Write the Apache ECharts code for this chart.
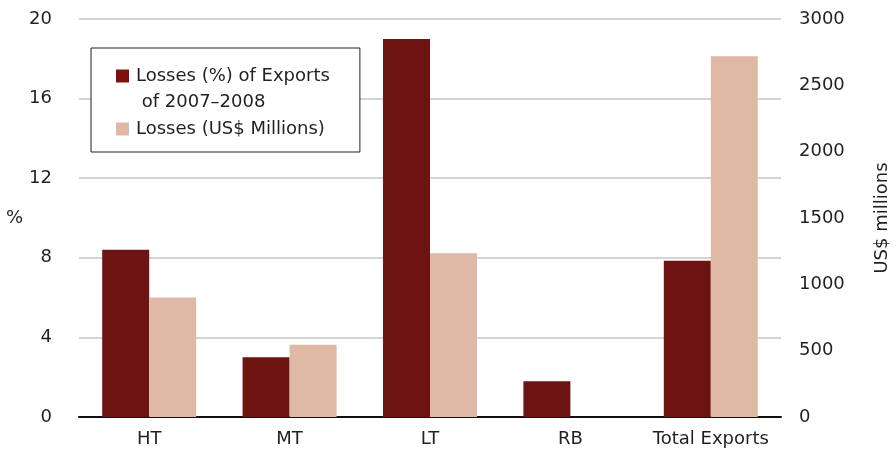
<!DOCTYPE html>
<html>
<head>
<meta charset="utf-8">
<script src="https://cdn.jsdelivr.net/npm/echarts@6/dist/echarts.min.js"></script>
<style>
	html, body { margin: 0; padding: 0; background: #fff; }
	#chart { width: 896px; height: 453px; }
</style>
</head>
<body>
<div id="chart"></div>
<script>
var categories = ['HT', 'MT', 'LT', 'RB', 'Total Exports'];
var lossPct = [8.4, 3.0, 19.0, 1.8, 7.85];
var lossUsd = [900, 545, 1235, 0, 2720];
var pctTicks = [0, 20, 4];
var usdTicks = [0, 3000, 500];

var FONT = '"DejaVu Sans", "Liberation Sans", Arial, sans-serif';
var DARK = '#6d1311';
var LIGHT = '#e0b9a6';
var TEXT = '#231f20';

var pctName = 'Losses (%) of Exports';
var pctName2 = ' of 2007–2008';   // second line of the legend entry
var usdName = 'Losses (US$ Millions)';

var myChart = echarts.init(document.getElementById('chart'));
var option = {
	backgroundColor: '#fff',
	animation: false,
	textStyle: { fontFamily: FONT },
	grid: { left: 79, right: 115, top: 19, bottom: 36, outerBoundsMode: 'none', containLabel: false },
	legend: {
		orient: 'vertical',
		left: 91,
		top: 48,
		padding: [19, 30, 14, 25],
		itemGap: 8.5,
		itemWidth: 13,
		itemHeight: 13,
		borderColor: '#231f20',
		borderWidth: 1,
		backgroundColor: '#fff',
		selectedMode: false,
		textStyle: { fontFamily: FONT, fontSize: 18, color: TEXT, lineHeight: 13, padding: [0, 0, 0, 2] },
		data: [
			{ name: pctName, icon: 'rect', itemStyle: { color: '#7e110a' } },
			{ name: pctName2, icon: 'rect', itemStyle: { opacity: 0 }, lineStyle: { opacity: 0 } },
			{ name: usdName, icon: 'rect' }
		]
	},
	xAxis: {
		type: 'category',
		data: categories,
		axisLine: { lineStyle: { color: '#111', width: 2 } },
		axisTick: { length: 5, lineStyle: { color: '#111', width: 1.5 } },
		axisLabel: { color: TEXT, fontSize: 18, margin: 13, interval: 0, fontFamily: FONT }
	},
	yAxis: [
		{
			type: 'value',
			min: pctTicks[0], max: pctTicks[1], interval: pctTicks[2],
			name: '%',
			nameLocation: 'middle',
			nameRotate: 0,
			nameGap: 54,
			nameTextStyle: { color: TEXT, fontSize: 18, fontFamily: FONT },
			axisLine: { show: false },
			axisTick: { show: false },
			axisLabel: { color: TEXT, fontSize: 18, margin: 27, fontFamily: FONT },
			splitLine: { lineStyle: { color: '#c4c4c4', width: 1.5 } }
		},
		{
			type: 'value',
			position: 'right',
			min: usdTicks[0], max: usdTicks[1], interval: usdTicks[2],
			name: 'US$ millions',
			nameLocation: 'middle',
			nameRotate: 90,
			nameGap: 92,
			nameTextStyle: { color: TEXT, fontSize: 18, fontFamily: FONT },
			axisLine: { show: false },
			axisTick: { show: false },
			axisLabel: {
				color: TEXT, fontSize: 18, margin: 18, fontFamily: FONT,
				formatter: function (v) { return String(v); }
			},
			splitLine: { show: false }
		}
	],
	series: [
		{
			name: pctName,
			type: 'bar',
			yAxisIndex: 0,
			data: lossPct,
			barWidth: 47,
			barGap: '0%',
			itemStyle: { color: DARK }
		},
		{
			name: usdName,
			type: 'bar',
			yAxisIndex: 1,
			data: lossUsd,
			barWidth: 47,
			barGap: '0%',
			itemStyle: { color: LIGHT }
		},
		{
			// empty series, only gives the legend its second text line
			name: pctName2,
			type: 'line',
			yAxisIndex: 0,
			data: [],
			silent: true
		}
	]
};
myChart.setOption(option);
</script>
</body>
</html>
